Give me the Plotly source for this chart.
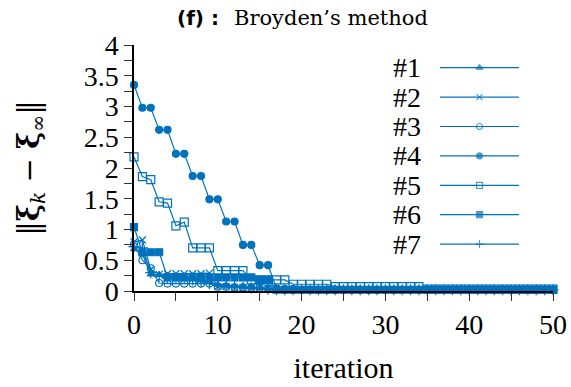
import plotly.graph_objects as go

iterations = list(range(51))

s1 = [0.68, 0.60, 0.27, 0.26, 0.25, 0.24, 0.23, 0.22, 0.20, 0.15, 0.10, 0.09, 0.08, 0.07, 0.06, 0.05, 0.04, 0.03] + [0.02] * 33
s2 = [0.80, 0.83, 0.35, 0.27, 0.28, 0.28, 0.28, 0.28, 0.28, 0.29, 0.07, 0.07, 0.06, 0.06, 0.05, 0.05, 0.04, 0.03] + [0.02] * 33
s3 = [0.76, 0.50, 0.37, 0.13, 0.12, 0.12, 0.12, 0.12, 0.12, 0.12, 0.07, 0.07, 0.06, 0.06, 0.05, 0.05, 0.04, 0.03] + [0.02] * 33
s4 = [3.35, 2.98, 2.98, 2.62, 2.62, 2.23, 2.23, 1.87, 1.87, 1.49, 1.49, 1.13, 1.13, 0.75, 0.75, 0.42, 0.42, 0.04, 0.03, 0.03] + [0.02] * 31
s5 = ([2.18, 1.86, 1.81, 1.45, 1.43, 1.06, 1.12, 0.70, 0.70, 0.70, 0.33, 0.33, 0.33, 0.33]
      + [0.18] * 5 + [0.11] * 5 + [0.07] * 11 + [0.03] * 16)
s6 = [1.04, 0.63, 0.63, 0.63] + [0.22] * 11 + [0.18, 0.18] + [0.02] * 34
s7 = [0.72, 0.70, 0.30, 0.24, 0.21, 0.20, 0.20, 0.18, 0.15, 0.12, 0.10, 0.08, 0.07, 0.06, 0.05, 0.04, 0.03] + [0.02] * 34

series = [s1, s2, s3, s4, s5, s6, s7]
names = ["#1", "#2", "#3", "#4", "#5", "#6", "#7"]
symbols = ["triangle-up", "x-thin-open", "circle-open", "circle", "square-open", "square", "cross-thin-open"]
sizes = [6, 7, 7, 7, 8, 7, 8]

color = "#0072BD"
serif = "Liberation Serif"

L, R, T, B = 134, 18, 45, 96
W, H = 571, 387
PW, PH = W - L - R, H - T - B


def px_x(px):
    return (px - L) / PW


def px_y(py):
    return (H - B - py) / PH


fig = go.Figure()
for ys, sym, sz, nm in zip(series, symbols, sizes, names):
    fig.add_trace(go.Scatter(
        x=iterations, y=ys, mode="lines+markers", name=nm,
        line=dict(color=color, width=1.2),
        marker=dict(symbol=sym, size=sz, color=color, line=dict(color=color, width=1.2)),
        cliponaxis=False, showlegend=False,
    ))

# custom legend (text left of line sample)
for k, (sym, nm) in enumerate(zip(symbols, names), start=1):
    fig.add_trace(go.Scatter(
        x=[0, 0.5, 1], y=[k, k, k], mode="lines+markers",
        xaxis="x2", yaxis="y2",
        line=dict(color=color, width=1.2),
        marker=dict(symbol=sym, size=[0, 6, 0], color=color, line=dict(color=color, width=1.2)),
        showlegend=False, hoverinfo="skip", cliponaxis=False,
    ))
    fig.add_annotation(x=0, y=k, xref="x2", yref="y2", text=nm, showarrow=False,
                       xanchor="right", yanchor="middle", xshift=-17,
                       font=dict(family=serif, size=28, color="black"))

# title pieces
fig.add_annotation(x=px_x(175), y=px_y(18), xref="paper", yref="paper",
                   text="<b>(f) :</b>", showarrow=False, xanchor="left", yanchor="middle",
                   font=dict(family="DejaVu Sans", size=20, color="black"))
fig.add_annotation(x=px_x(232), y=px_y(18), xref="paper", yref="paper",
                   text="Broyden’s method", showarrow=False, xanchor="left", yanchor="middle",
                   font=dict(family="DejaVu Serif", size=21, color="black"))

fig.update_layout(
    width=W, height=H,
    margin=dict(l=L, r=R, t=T, b=B),
    plot_bgcolor="rgba(0,0,0,0)", paper_bgcolor="white",
    showlegend=False,
    xaxis=dict(
        range=[0, 50], dtick=10, tick0=0, ticks="outside", ticklen=8, tickcolor="#333",
        minor=dict(dtick=5, ticks="outside", ticklen=8, tickcolor="#333"),
        showline=True, linecolor="black", linewidth=1.5, showgrid=False, zeroline=False,
        tickfont=dict(family=serif, size=28, color="black"), automargin=False,
        title=dict(text="iteration", font=dict(family=serif, size=30, color="black"), standoff=18),
    ),
    yaxis=dict(
        range=[0, 4], dtick=0.5, tick0=0, ticks="outside", ticklen=8, tickcolor="#333",
        minor=dict(dtick=0.25, ticks="outside", ticklen=8, tickcolor="#333"),
        showline=True, linecolor="black", linewidth=1.5, showgrid=False, zeroline=False,
        tickfont=dict(family=serif, size=28, color="black"), automargin=False,
        title=dict(text="‖<b>ξ</b><sub><i>k</i></sub> − <b>ξ</b><sub>∞</sub>‖",
                   font=dict(family="DejaVu Serif", size=29, color="black"), standoff=36),
    ),
    xaxis2=dict(domain=[px_x(440), px_x(519)], range=[0, 1], visible=False,
                anchor="y2", fixedrange=True),
    yaxis2=dict(domain=[0, 1], range=[8.595, 0.228], visible=False, anchor="x2",
                overlaying="y", fixedrange=True),
)

fig.write_html("out.html")
